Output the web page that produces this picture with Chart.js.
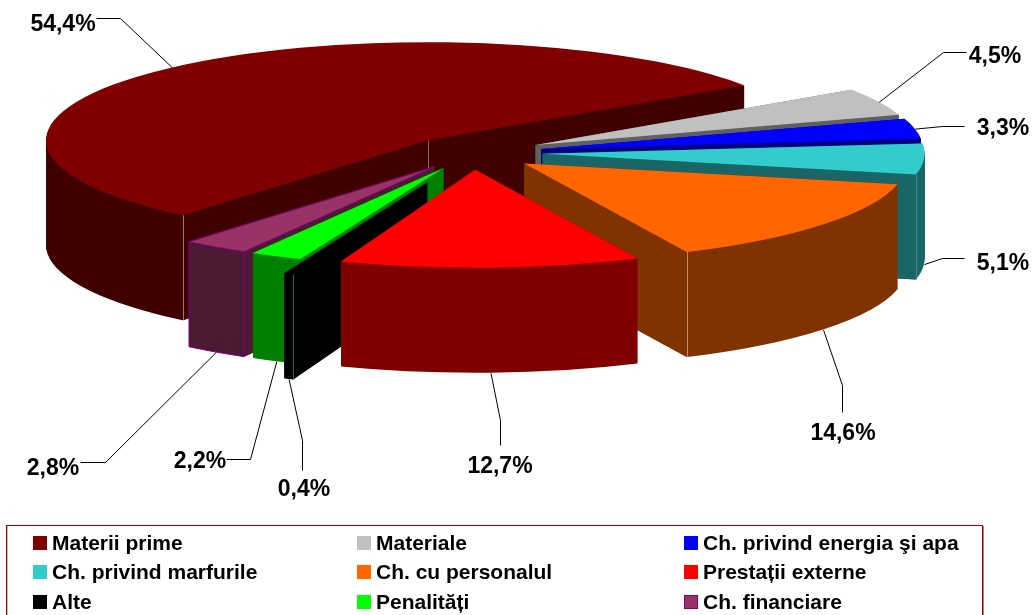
<!DOCTYPE html>
<html>
<head>
<meta charset="utf-8">
<title>Structura cheltuielilor</title>
<script src="https://cdn.jsdelivr.net/npm/chart.js@4/dist/chart.umd.min.js"></script>
<style>
  body { margin: 0; background: #fff; overflow: hidden; }
  canvas { display: block; }
</style>
</head>
<body>
<canvas id="grafic" width="1032" height="615"></canvas>
<script>
const categorii = ["Materii prime", "Materiale", "Ch. privind energia şi apa", "Ch. privind marfurile",
  "Ch. cu personalul", "Prestații externe", "Alte", "Penalități", "Ch. financiare"];
const valori = [54.4, 4.5, 3.3, 5.1, 14.6, 12.7, 0.4, 2.2, 2.8];
const etichete = ["54,4%", "4,5%", "3,3%", "5,1%", "14,6%", "12,7%", "0,4%", "2,2%", "2,8%"];
const culori = ["#800000", "#C0C0C0", "#0000FF", "#33CCCC", "#FF6600", "#FF0000", "#000000", "#00FF00", "#993366"];
const culoriPerete = ["#400000", "#606060", "#000080", "#1A6666", "#803300", "#800000", "#000000", "#008000", "#4D1A33"];

// 3d look: the pie is stretched sideways and each slice is stacked downwards
const razaX = 382;
const adancime = 105;
const explozie = [17, 18, 18, 18, 17, 17, 32, 17, 17];

// label text centre, elbow points, and whether the leader starts at the bottom of the wall
const pozEtichete = [
  { x: 63, y: 25, cot: [[120, 18], [96, 18]], jos: false },
  { x: 995, y: 57, cot: [[943, 52], [966, 52]], jos: false },
  { x: 1003, y: 129, cot: [[942, 126], [964, 126]], jos: false },
  { x: 1003, y: 264, cot: [[942, 258], [964, 258]], jos: true },
  { x: 843, y: 434, cot: [[842, 385], [842, 412]], jos: true },
  { x: 500, y: 467, cot: [[500, 420], [500, 445]], jos: true },
  { x: 304, y: 490, cot: [[302, 440], [302, 470]], jos: true },
  { x: 200, y: 462, cot: [[250, 459], [226, 459]], jos: true },
  { x: 53, y: 469, cot: [[105, 462], [80, 462]], jos: true }
];

// thin vertical lines on the wall corners: slice, corner, colour
const muchii = [
  [0, "start", "#9a7878"], [0, "centru", "#8a6060"], [3, "end", "#3d8a8a"], [4, "end", "#b8926a"],
  [6, "start", "#1f6a1f"]
];

const coloaneLegenda = [33, 357, 684];
const randuriLegenda = [543, 572, 602];

function mijloc(arc) {
  return (arc.startAngle + arc.endAngle) / 2;
}

// centre of the exploded slice in page coordinates
function centruFelie(arc, i, sx) {
  const m = mijloc(arc);
  return { x: arc.x + Math.cos(m) * explozie[i] * sx, y: arc.y + Math.sin(m) * explozie[i] };
}

function punctMargine(arc, i, sx, unghi) {
  const c = centruFelie(arc, i, sx);
  return { x: c.x + Math.cos(unghi) * arc.outerRadius * sx, y: c.y + Math.sin(unghi) * arc.outerRadius };
}

function deseneazaFelie(ctx, arc, i, culoare, dy) {
  const copie = Object.create(arc);
  copie.options = Object.assign({}, arc.options, { backgroundColor: culoare, borderWidth: 0 });
  const m = mijloc(arc);
  ctx.save();
  ctx.translate(Math.cos(m) * explozie[i], Math.sin(m) * explozie[i] + dy);
  copie.draw(ctx);
  ctx.restore();
}

// flat cut face, a thin wedge alone leaves stripes when it is stacked
function fataTaiata(ctx, arc, i, sx, unghi, culoare) {
  const c = centruFelie(arc, i, sx);
  const p = punctMargine(arc, i, sx, unghi);
  ctx.fillStyle = culoare;
  ctx.beginPath();
  ctx.moveTo(c.x, c.y);
  ctx.lineTo(p.x, p.y);
  ctx.lineTo(p.x, p.y + adancime);
  ctx.lineTo(c.x, c.y + adancime);
  ctx.closePath();
  ctx.fill();
}

function linie(ctx, puncte, culoare) {
  ctx.strokeStyle = culoare;
  ctx.lineWidth = 1;
  ctx.beginPath();
  puncte.forEach((p, k) => (k === 0 ? ctx.moveTo(p[0], p[1]) : ctx.lineTo(p[0], p[1])));
  ctx.stroke();
}

function conturFelie(ctx, arc, i, sx, culoare) {
  const c = centruFelie(arc, i, sx);
  const a = punctMargine(arc, i, sx, arc.startAngle);
  const b = punctMargine(arc, i, sx, arc.endAngle);
  ctx.strokeStyle = culoare;
  ctx.lineWidth = 1;
  // top face
  ctx.beginPath();
  ctx.moveTo(c.x, c.y);
  ctx.lineTo(a.x, a.y);
  ctx.ellipse(c.x, c.y, arc.outerRadius * sx, arc.outerRadius, 0, arc.startAngle, arc.endAngle);
  ctx.closePath();
  ctx.stroke();
  // wall
  ctx.beginPath();
  ctx.moveTo(a.x, a.y);
  ctx.lineTo(a.x, a.y + adancime);
  ctx.ellipse(c.x, c.y + adancime, arc.outerRadius * sx, arc.outerRadius, 0, arc.startAngle, arc.endAngle);
  ctx.lineTo(b.x, b.y);
  ctx.stroke();
}

const pie3d = {
  id: "pie3d",
  beforeDatasetDraw(chart) {
    const ctx = chart.ctx;
    const arce = chart.getDatasetMeta(0).data;
    const cx = arce[0].x;
    const sx = razaX / arce[0].outerRadius;
    // back slices first
    const ordine = arce.map((a, i) => i).sort((p, q) => Math.sin(mijloc(arce[p])) - Math.sin(mijloc(arce[q])));

    ordine.forEach(i => {
      ctx.save();
      ctx.translate(cx, 0);
      ctx.scale(sx, 1);
      ctx.translate(-cx, 0);
      for (let dy = adancime; dy >= 1; dy--) deseneazaFelie(ctx, arce[i], i, culoriPerete[i], dy);
      ctx.restore();
      fataTaiata(ctx, arce[i], i, sx, arce[i].startAngle, culoriPerete[i]);
      fataTaiata(ctx, arce[i], i, sx, arce[i].endAngle, culoriPerete[i]);
      muchii.filter(m => m[0] === i).forEach(m => {
        const p = m[1] === "centru" ? centruFelie(arce[i], i, sx)
          : punctMargine(arce[i], i, sx, m[1] === "start" ? arce[i].startAngle : arce[i].endAngle);
        linie(ctx, [[Math.round(p.x) + 0.5, p.y], [Math.round(p.x) + 0.5, p.y + adancime]], m[2]);
      });
    });

    ordine.forEach(i => {
      ctx.save();
      ctx.translate(cx, 0);
      ctx.scale(sx, 1);
      ctx.translate(-cx, 0);
      deseneazaFelie(ctx, arce[i], i, culori[i], 0);
      ctx.restore();
      if (i === 8) conturFelie(ctx, arce[i], i, sx, "#800080");
    });
    return false;
  },
  afterDraw(chart) {
    const ctx = chart.ctx;
    const arce = chart.getDatasetMeta(0).data;
    const sx = razaX / arce[0].outerRadius;

    ctx.textAlign = "center";
    ctx.textBaseline = "middle";
    ctx.font = "bold 23px 'Liberation Sans', Arial, sans-serif";
    arce.forEach((arc, i) => {
      const poz = pozEtichete[i];
      const p = punctMargine(arc, i, sx, mijloc(arc));
      ctx.save();
      ctx.translate(0.5, 0.5);
      linie(ctx, [[p.x, p.y + (poz.jos ? adancime : 0)]].concat(poz.cot), "#000");
      ctx.restore();
      ctx.fillStyle = "#000";
      ctx.fillText(etichete[i], poz.x, poz.y);
    });

    // legend, three aligned columns
    ctx.strokeStyle = "#A00000";
    ctx.lineWidth = 1;
    ctx.strokeRect(6.5, 525.5, 976, 120);
    linie(ctx, [[983.5, 526], [983.5, 615]], "#C87878");
    linie(ctx, [[7.5, 526], [7.5, 615]], "#E0B0B0");
    ctx.textAlign = "left";
    ctx.font = "bold 21px 'Liberation Sans', Arial, sans-serif";
    categorii.forEach((nume, i) => {
      const x = coloaneLegenda[i % 3];
      const y = randuriLegenda[Math.floor(i / 3)];
      ctx.fillStyle = culori[i];
      ctx.fillRect(x, y - 7, 14, 14);
      if (i === 8) {
        ctx.strokeStyle = "#800080";
        ctx.strokeRect(x + 0.5, y - 6.5, 13, 13);
      }
      ctx.fillStyle = "#000";
      ctx.fillText(nume, x + 19, y + 1);
    });
  }
};

new Chart(document.getElementById("grafic"), {
  type: "pie",
  data: {
    labels: categorii,
    datasets: [{ data: valori, backgroundColor: culori, borderWidth: 0 }]
  },
  options: {
    responsive: false,
    animation: false,
    rotation: 220,
    layout: { padding: { left: 372.5, right: 459.5, top: 54.8, bottom: 364.2 } },
    plugins: { legend: { display: false }, tooltip: { enabled: false } }
  },
  plugins: [pie3d]
});
</script>
</body>
</html>
